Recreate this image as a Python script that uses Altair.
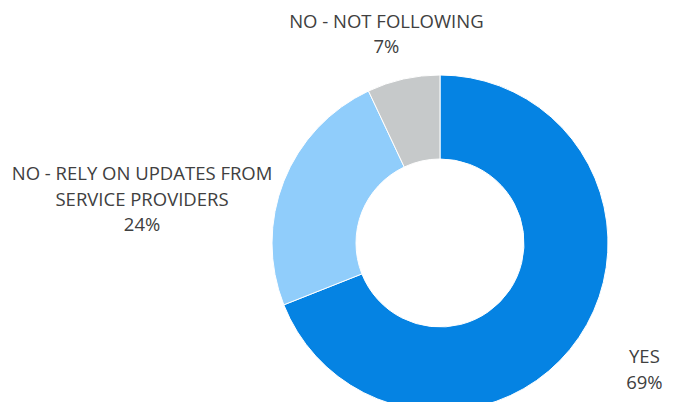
import altair as alt
import pandas as pd

categories = ["YES", "NO - RELY ON UPDATES FROM\nSERVICE PROVIDERS", "NO - NOT FOLLOWING"]
keys = ["yes", "rely", "not"]
values = [69, 24, 7]
colors = ["#0583E3", "#90CDFB", "#C6C9CA"]

df = pd.DataFrame({
    "key": keys,
    "category": categories,
    "value": values,
    "order": list(range(len(keys))),
})
df["label"] = df["category"] + "\n" + df["value"].astype(str) + "%"

CX, CY = 432, 235
theta_scale = alt.Scale(domain=[0, 100])
color_scale = alt.Scale(domain=keys, range=colors)

base = alt.Chart(df)

arcs = base.mark_arc(innerRadius=84, outerRadius=168, stroke="white", strokeWidth=1).encode(
    theta=alt.Theta("value:Q", stack=True, scale=theta_scale),
    color=alt.Color("key:N", scale=color_scale, legend=None),
    order=alt.Order("order:Q"),
    x=alt.value(CX),
    y=alt.value(CY),
)

label_base = base.transform_window(
    cum="sum(value)", sort=[alt.SortField("order")], frame=[None, 0]
).transform_calculate(mid="datum.cum - datum.value / 2")

offsets = {"yes": (39, 2), "rely": (-112, 5), "not": (-10, -26)}
layers = [arcs]
for k in keys:
    dx, dy = offsets[k]
    layers.append(
        label_base.transform_filter(alt.datum.key == k)
        .mark_text(
            radius=200, dx=dx, dy=dy, align="center", baseline="middle",
            lineBreak="\n", lineHeight=25.5, font="Open Sans", fontSize=18.5,
            color="#404040",
        )
        .encode(
            theta=alt.Theta("mid:Q", scale=theta_scale, stack=None),
            text="label:N",
            x=alt.value(CX),
            y=alt.value(CY),
        )
    )

chart = alt.layer(*layers).properties(
    width=657, height=394, autosize=alt.AutoSizeParams(type="none"), padding=0
).configure_view(stroke=None)

chart.save("out.html", embed_options={"renderer": "svg", "actions": False})
